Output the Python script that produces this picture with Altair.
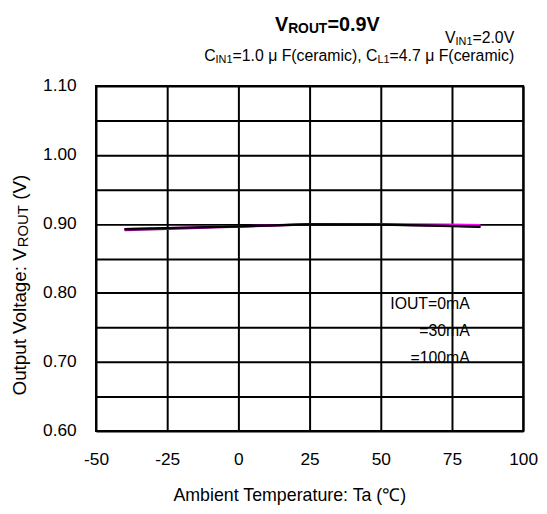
import altair as alt
import pandas as pd

# ---- data ----
temps = [-40, -25, 0, 25, 50, 75, 85]
vout_0mA = [0.8927, 0.8942, 0.8966, 0.8995, 0.8990, 0.8970, 0.8957]
vout_30mA = [0.8912, 0.8930, 0.8962, 0.8994, 0.8991, 0.8974, 0.8962]
vout_100mA = [0.8925, 0.8941, 0.8966, 0.8997, 0.8999, 0.8993, 0.8984]
series_names = ["0mA", "30mA", "100mA"]
series_colors = ["#000000", "#800080", "#ff00ff"]
x_ticks = [-50, -25, 0, 25, 50, 75, 100]
y_grid = [0.60, 0.65, 0.70, 0.75, 0.80, 0.85, 0.90, 0.95, 1.00, 1.05, 1.10]
legend_lines = ["IOUT=0mA", "=30mA", "=100mA"]

W, H = 432, 349
FONT = "Liberation Sans"

rows = []
for name, vals in zip(series_names, [vout_0mA, vout_30mA, vout_100mA]):
    for t, v in zip(temps, vals):
        rows.append({"Ta": t, "V": v, "series": name})
df = pd.DataFrame(rows)

x_enc = alt.X(
    "Ta:Q",
    scale=alt.Scale(domain=[-50, 100], nice=False, zero=False),
    axis=alt.Axis(
        values=x_ticks, grid=True, gridColor="black", gridWidth=2, gridOpacity=1,
        ticks=False, domain=False, labelPadding=20, labelFontSize=17.5,
        labelFont=FONT, labelColor="black", labelFlush=False, labelOverlap=False,
        labelExpr="datum.value < 0 ? '-' + abs(datum.value) : '' + datum.value",
        title=None,
    ),
)
y_enc = alt.Y(
    "V:Q",
    scale=alt.Scale(domain=[0.6, 1.1], nice=False, zero=False),
    axis=alt.Axis(
        values=y_grid, grid=True, gridColor="black", gridWidth=2, gridOpacity=1,
        ticks=False, domain=False, labelPadding=20, labelFontSize=17.5,
        labelFont=FONT, labelColor="black", labelFlush=False, labelOverlap=False,
        labelExpr="(round(datum.value*100) % 10 == 0) ? format(datum.value, '.2f') : ''",
        title=None,
    ),
)


def line_layer(name):
    color = series_colors[series_names.index(name)]
    return (
        alt.Chart(df)
        .transform_filter(alt.datum.series == name)
        .mark_line(strokeWidth=2.2, color=color)
        .encode(x=x_enc, y=y_enc)
    )


one = pd.DataFrame({"a": [0]})


def txt(s, x, y, size, bold=False, align="left", angle=0):
    return (
        alt.Chart(one)
        .mark_text(
            text=s, align=align, baseline="alphabetic", fontSize=size, font=FONT,
            fontWeight="bold" if bold else "normal", color="black", angle=angle,
        )
        .encode(x=alt.value(x), y=alt.value(y))
    )


layers = [line_layer("100mA"), line_layer("30mA"), line_layer("0mA")]

# title
layers += [
    txt("V", 181, -56, 20, bold=True),
    txt("ROUT", 194.3, -54, 14, bold=True),
    txt("=0.9V", 234, -56, 20, bold=True),
]
# condition line 1
layers += [
    txt("V", 352.9, -43, 16),
    txt("IN1", 363.6, -41.2, 11),
    txt("=2.0V", 380.7, -43, 16),
]
# condition line 2
layers += [
    txt("C", 109.4, -25.2, 16),
    txt("IN1", 120.95, -23.5, 11),
    txt("=1.0 μ F(ceramic), C", 138.1, -25.2, 16),
    txt("L1", 284.7, -23.5, 11),
    txt("=4.7 μ F(ceramic)", 296.9, -25.2, 16),
]
# y title (rotated)
layers += [
    txt("Output Voltage: V", -71, 313, 19, angle=270),
    txt("ROUT", -69, 163, 15, angle=270),
    txt("(V)", -71, 115, 19, angle=270),
]
# x title
layers += [txt("Ambient Temperature: Ta (℃)", 196, 420, 18, align="center")]
# legend text
layers += [
    txt(legend_lines[0], 378, 226, 16, align="right"),
    txt(legend_lines[1], 378, 253, 16, align="right"),
    txt(legend_lines[2], 378, 280, 16, align="right"),
]

chart = (
    alt.layer(*layers)
    .properties(
        width=W, height=H,
        padding={"left": 89, "top": 76, "right": 16, "bottom": 76},
        autosize=alt.AutoSizeParams(type="none"),
        background="white",
    )
    .configure_view(stroke="black", strokeWidth=2)
)

chart.save("out.html", embed_options={"renderer": "svg", "actions": False})
